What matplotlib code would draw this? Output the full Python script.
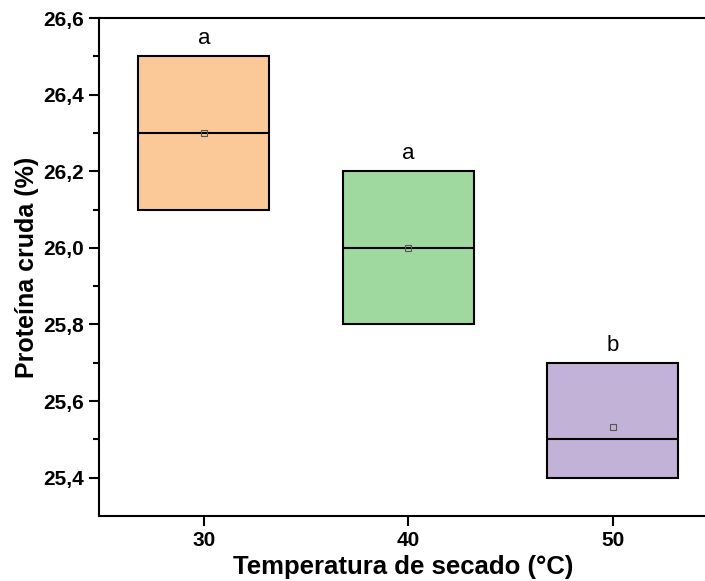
import matplotlib.pyplot as plt
from matplotlib.ticker import FixedLocator

plt.rcParams['font.family'] = ['Liberation Sans', 'DejaVu Sans']

# Data
temps = [30, 40, 50]
q1 = [26.1, 25.8, 25.4]
q3 = [26.5, 26.2, 25.7]
medians = [26.3, 26.0, 25.5]
means = [26.3, 26.0, 25.533]
letters = ['a', 'a', 'b']
colors = ['#FBC997', '#A0D99F', '#C3B2D7']
yticks = [25.4, 25.6, 25.8, 26.0, 26.2, 26.4, 26.6]
yminor = [25.5, 25.7, 25.9, 26.1, 26.3, 26.5]

fig = plt.figure(figsize=(7.05, 5.81), dpi=100)
ax = fig.add_axes([0.1404, 0.1119, 0.862, 0.857])

width = 6.4
heights = [b - a for a, b in zip(q1, q3)]
ax.bar(temps, heights, bottom=q1, width=width, color=colors,
       edgecolor='black', linewidth=1.5, zorder=2)
ax.hlines(medians, [t - width / 2 for t in temps], [t + width / 2 for t in temps],
          colors='black', linewidth=1.5, zorder=3)
ax.plot(temps, means, linestyle='none', marker='s', markersize=5,
        markerfacecolor='none', markeredgecolor='#555555', markeredgewidth=0.8, zorder=4)

for t, top, lab in zip(temps, q3, letters):
    ax.annotate(lab, (t, top), xytext=(0, 5), textcoords='offset points',
                ha='center', va='bottom', fontsize=16)

ax.set_xlim(24.87, 54.6)
ax.set_ylim(25.3, 26.6)
ax.set_xticks(temps)
ax.set_yticks(yticks)
ax.set_yticklabels([f'{v:.1f}'.replace('.', ',') for v in yticks])
ax.yaxis.set_minor_locator(FixedLocator(yminor))

ax.tick_params(axis='both', which='major', direction='out', length=7, width=1.5,
               labelsize=15)
ax.tick_params(axis='y', which='minor', direction='out', length=4, width=1.5)
for lbl in ax.get_xticklabels() + ax.get_yticklabels():
    lbl.set_fontweight('bold')

for s in ax.spines.values():
    s.set_linewidth(1.5)
ax.spines['right'].set_visible(False)

ax.set_xlabel('Temperatura de secado (°C)', fontsize=18.5, fontweight='bold', labelpad=4)
ax.set_ylabel('Proteína cruda (%)', fontsize=18, fontweight='bold', labelpad=3)

fig.savefig('out.png', dpi=100)
